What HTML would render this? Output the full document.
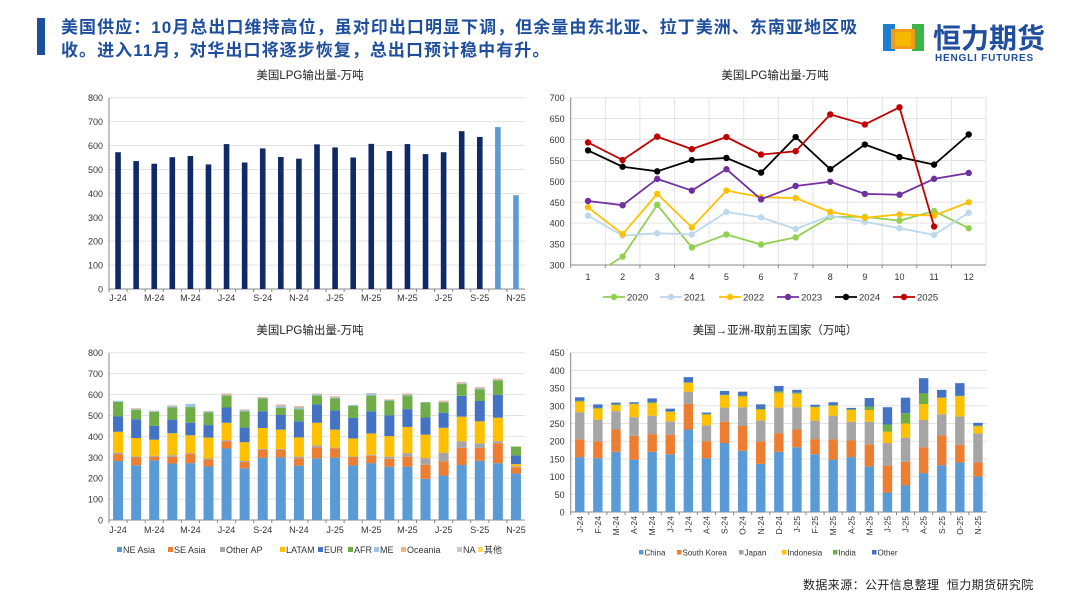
<!DOCTYPE html>
<html><head><meta charset="utf-8">
<style>
html,body{margin:0;padding:0;background:#fff;}
body{width:1080px;height:608px;overflow:hidden;position:relative;font-family:"Liberation Sans","Noto Sans CJK SC",sans-serif;}
.hdr{position:absolute;left:61px;top:16px;font-size:17px;line-height:23px;color:#1f4e9c;font-weight:bold;white-space:nowrap;letter-spacing:1.05px;font-family:"Liberation Sans","Noto Sans CJK SC",sans-serif;}
</style></head><body>
<div style="position:absolute;left:37px;top:18px;width:8px;height:37px;background:#1f4e9c"></div>
<div class="hdr">美国供应：10月总出口维持高位，虽对印出口明显下调，但余量由东北亚、拉丁美洲、东南亚地区吸<br>收。进入11月，对华出口将逐步恢复，总出口预计稳中有升。</div>
<div style="position:absolute;left:883px;top:22px;width:170px;height:42px;overflow:hidden">
  <div style="position:absolute;left:0;top:2px;width:41px;height:28px;">
    <div style="position:absolute;left:0;top:0;width:12px;height:27px;background:#1c7fd0"></div>
    <div style="position:absolute;left:29px;top:0;width:12px;height:27px;background:#3cb44a"></div>
    <div style="position:absolute;left:8px;top:5px;width:24px;height:20px;background:#f29a1b"></div>
    <div style="position:absolute;left:12px;top:8px;width:16px;height:14px;background:#f5b800"></div>
  </div>
  <div style="position:absolute;left:50px;top:-5px;font-size:28px;font-weight:bold;color:#1f4e9c;letter-spacing:0px;font-family:'Noto Sans CJK SC',sans-serif">恒力期货</div>
  <div style="position:absolute;left:52px;top:31px;font-size:10px;font-weight:bold;color:#1f4e9c;letter-spacing:0.8px">HENGLI FUTURES</div>
</div>
<div style="position:absolute;left:803px;top:576px;font-size:12px;letter-spacing:0.4px;color:#222;font-family:'Liberation Sans','Noto Sans CJK SC',sans-serif">数据来源：公开信息整理&nbsp;&nbsp;恒力期货研究院</div>

<svg id="svg" width="1080" height="608" style="position:absolute;left:0;top:0" xmlns="http://www.w3.org/2000/svg" font-family="Liberation Sans, Noto Sans CJK SC, sans-serif">
<defs><clipPath id="c2"><rect x="570" y="97" width="417" height="168"/></clipPath></defs>
</svg>

<script>
// ---- Chart 1 data ----
const c1Months = ["J-24","F-24","M-24","A-24","M-24","J-24","J-24","A-24","S-24","O-24","N-24","D-24","J-25","F-25","M-25","A-25","M-25","J-25","J-25","A-25","S-25","O-25","N-25"];
const c1Values = [572,535,524,551,556,521,606,529,588,552,545,605,592,550,607,577,606,564,572,660,636,677,392];
const c1Ticks = [0,100,200,300,400,500,600,700,800];

// ---- Chart 2 data ----
const c2Months = [1,2,3,4,5,6,7,8,9,10,11,12];
const c2Years = ["2020","2021","2022","2023","2024","2025"];
const s2020 = [268,320,444,342,373,349,366,415,415,406,429,388];
const s2021 = [418,370,376,373,427,414,386,418,403,388,372,425];
const s2022 = [438,374,470,390,478,462,460,427,413,421,418,450];
const s2023 = [453,443,506,478,529,457,489,499,470,468,506,520];
const s2024 = [574,535,524,551,556,521,606,529,588,558,540,612];
const s2025 = [593,551,607,577,606,564,572,660,636,677,392];
const c2Ticks = [300,350,400,450,500,550,600,650,700];

// ---- Chart 3 data (stacked by region) ----
const c3Regions = ["NE Asia","SE Asia","Other AP","LATAM","EUR","AFR","ME","Oceania","NA","其他"];
const neAsia  = [282,262,285,270,272,256,342,247,298,300,260,295,298,261,272,255,255,197,213,263,283,272,222];
const seAsia  = [33,37,17,32,45,33,35,30,37,35,35,52,45,40,35,38,48,67,68,82,62,95,30];
const otherAP = [7,5,5,8,3,5,5,5,5,5,8,10,3,3,5,10,17,32,40,32,22,10,5];
const latam   = [100,88,77,105,85,100,83,90,100,92,92,108,86,86,102,98,125,112,120,117,105,112,10];
const eur     = [73,90,66,65,60,60,73,70,80,70,77,87,92,98,106,100,85,82,72,100,97,110,42];
const afr     = [70,45,67,58,75,60,57,77,62,35,58,43,57,57,75,70,65,72,49,56,55,68,42];
const me      = [5,5,5,5,15,5,3,5,3,8,8,7,5,5,10,3,5,2,3,3,5,3,0];
const oceania = [0,3,2,3,0,2,5,3,3,5,5,3,5,0,2,3,5,0,5,5,5,5,0];
const na      = [0,0,0,3,0,0,3,3,0,3,2,0,1,0,0,0,0,0,2,2,2,2,0];
const others  = [0,0,0,0,0,0,0,0,0,0,0,0,0,0,0,0,0,0,0,0,0,0,0];
const c3Ticks = [0,100,200,300,400,500,600,700,800];

// ---- Chart 4 data (US -> Asia) ----
const c4Countries = ["China","South Korea","Japan","Indonesia","India","Other"];
const china  = [155,152,170,148,170,163,233,152,195,173,136,170,183,163,148,155,129,55,75,110,132,140,100];
const korea  = [50,47,63,67,50,55,72,48,60,70,63,52,50,43,57,47,62,76,67,73,84,50,40];
const japan  = [77,62,52,53,52,38,35,45,40,53,60,73,63,52,67,53,64,64,68,77,60,80,82];
const indo   = [30,31,17,37,35,27,25,30,35,30,30,42,38,38,28,33,33,32,40,45,47,57,20];
const india  = [2,2,2,1,3,1,1,2,1,2,2,4,3,2,2,2,10,20,29,30,0,1,2];
const other4 = [10,10,5,4,11,8,15,4,11,12,13,15,8,5,8,4,24,49,44,43,22,36,8];
const c4Ticks = [0,50,100,150,200,250,300,350,400,450];

const NS="http://www.w3.org/2000/svg";
const svg=document.getElementById('svg');
function el(tag,attrs,parent){const e=document.createElementNS(NS,tag);for(const k in attrs)e.setAttribute(k,attrs[k]);(parent||svg).appendChild(e);return e;}
function txt(x,y,s,size,anchor,fill,parent){const t=el('text',{x:x,y:y,'font-size':size,'text-anchor':anchor||'middle',fill:fill||'#333'},parent);t.textContent=s;return t;}

// ===== Chart 1 =====
(function(){
 const g=el('g',{});
 
 
 const x0=109,x1=525,y0=289,y1=97.7,vmax=800;
 const Y=v=>y0-(v/vmax)*(y0-y1);
 const bw=(x1-x0)/c1Values.length;
 const X=i=>x0+bw*(i+0.5);
 const t=txt(310,79,"美国LPG输出量-万吨",11.5,'middle','#222',g);
 
 c1Ticks.forEach(v=>{
  if(v>0){const l=el('line',{x1:x0,x2:x1,y1:Y(v),y2:Y(v),stroke:'#e3e3e3','stroke-width':1},g);}
  const tl=txt(x0-6,Y(v)+3.5,String(v),9,'end','#333',g);
  
 });
 el('line',{x1:x0,x2:x0,y1:y1,y2:y0,stroke:'#888'},g);
 el('line',{x1:x0,x2:x1,y1:y0,y2:y0,stroke:'#888'},g);
 c1Values.forEach((v,i)=>{
  const r=el('rect',{x:X(i)-2.8,y:Y(v),width:5.6,height:y0-Y(v),fill:i>=21?'#5b9bd5':'#0f2a66'},g);
  
  
 });
 c1Months.forEach((m,i)=>{
  el('line',{x1:x0+bw*i,x2:x0+bw*i,y1:y0,y2:y0+3,stroke:'#888'},g);
  if(i%2===0){const l=txt(X(i),301,m,9,'middle','#333',g);}
 });
})();

// ===== Chart 2 =====
(function(){
 const g=el('g',{});
 
 
 const x0=570.7,x1=986,y0=265,y1=97.7,vmin=300,vmax=700;
 const Y=v=>y0-((v-vmin)/(vmax-vmin))*(y0-y1);
 const bw=(x1-x0)/c2Months.length;
 const X=i=>x0+bw*(i+0.5);
 const t=txt(775,79,"美国LPG输出量-万吨",11.5,'middle','#222',g);
 
 c2Ticks.forEach(v=>{
  if(v>vmin)el('line',{x1:x0,x2:x1,y1:Y(v),y2:Y(v),stroke:'#e3e3e3'},g);
  const tl=txt(x0-6,Y(v)+3.5,String(v),9,'end','#333',g);
  
 });
 c2Months.forEach((m,i)=>{
  el('line',{x1:x0+bw*(i+1),x2:x0+bw*(i+1),y1:y1,y2:y0,stroke:'#e3e3e3'},g);
  el('line',{x1:x0+bw*i,x2:x0+bw*i,y1:y0,y2:y0+3,stroke:'#888'},g);
  const l=txt(X(i),280,String(m),9,'middle','#333',g);
 });
 el('line',{x1:x0,x2:x0,y1:y1,y2:y0,stroke:'#888'},g);
 el('line',{x1:x0,x2:x1,y1:y0,y2:y0,stroke:'#888'},g);
 const series=[s2020,s2021,s2022,s2023,s2024,s2025];
 const colors=['#92d050','#bdd7ee','#ffc000','#7030a0','#000000','#c00000'];
 const cg=el('g',{'clip-path':'url(#c2)'},g);
 series.forEach((s,k)=>{
  const pts=s.map((v,i)=>X(i)+','+Y(v)).join(' ');
  const pl=el('polyline',{points:pts,fill:'none',stroke:colors[k],'stroke-width':1.8},cg);
  
  s.forEach((v,i)=>{
   const c=el('circle',{cx:X(i),cy:Y(v),r:3.2,fill:colors[k]},cg);
   
  });
 });
 const lx=[603,660,719,777,835,893];
 c2Years.forEach((yname,k)=>{
  const lg=el('g',{},g);
  
  el('line',{x1:lx[k],x2:lx[k]+22,y1:297,y2:297,stroke:colors[k],'stroke-width':1.8},lg);
  el('circle',{cx:lx[k]+11,cy:297,r:3.2,fill:colors[k]},lg);
  txt(lx[k]+24,300.5,yname,9.5,'start','#333',lg);
 });
})();

// ===== Chart 3 =====
(function(){
 const g=el('g',{});
 
 
 const x0=109,x1=525,y0=520,y1=352.7,vmax=800;
 const Y=v=>y0-(v/vmax)*(y0-y1);
 const n=neAsia.length,bw=(x1-x0)/n;
 const X=i=>x0+bw*(i+0.5);
 const t=txt(310,334,"美国LPG输出量-万吨",11.5,'middle','#222',g);
 
 c3Ticks.forEach(v=>{
  if(v>0)el('line',{x1:x0,x2:x1,y1:Y(v),y2:Y(v),stroke:'#e3e3e3'},g);
  const tl=txt(x0-6,Y(v)+3.5,String(v),9,'end','#333',g);
  
 });
 el('line',{x1:x0,x2:x0,y1:y1,y2:y0,stroke:'#888'},g);
 el('line',{x1:x0,x2:x1,y1:y0,y2:y0,stroke:'#888'},g);
 const series=[neAsia,seAsia,otherAP,latam,eur,afr,me,oceania,na,others];
 const colors=['#5b9bd5','#ed7d31','#a5a5a5','#ffc000','#4472c4','#70ad47','#9dc3e6','#f4b183','#c9c9c9','#ffd966'];
 for(let i=0;i<n;i++){
  let acc=0;
  series.forEach((s,k)=>{
   const v=s[i];if(v<=0)return;
   const r=el('rect',{x:X(i)-5,y:Y(acc+v),width:10,height:Y(acc)-Y(acc+v),fill:colors[k]},g);
   
   
   acc+=v;
  });
 }
 c1Months.forEach((m,i)=>{
  el('line',{x1:x0+bw*i,x2:x0+bw*i,y1:y0,y2:y0+3,stroke:'#888'},g);
  if(i%2===0){const l=txt(X(i),533,m,9,'middle','#333',g);}
 });
 const lx=[117,168,220,280,318,348,374,401,457,478];
 c3Regions.forEach((r,k)=>{
  const lg=el('g',{},g);
  
  el('rect',{x:lx[k],y:547,width:5,height:5,fill:colors[k]},lg);
  txt(lx[k]+6,553,r,9,'start','#333',lg);
 });
})();

// ===== Chart 4 =====
(function(){
 const g=el('g',{});
 
 
 const x0=570.7,x1=987,y0=512,y1=352.7,vmax=450;
 const Y=v=>y0-(v/vmax)*(y0-y1);
 const n=china.length,bw=(x1-x0)/n;
 const X=i=>x0+bw*(i+0.5);
 const t=txt(775,334,"美国→亚洲-取前五国家（万吨）",11.5,'middle','#222',g);
 
 c4Ticks.forEach(v=>{
  if(v>0)el('line',{x1:x0,x2:x1,y1:Y(v),y2:Y(v),stroke:'#e3e3e3'},g);
  const tl=txt(x0-6,Y(v)+3.5,String(v),9,'end','#333',g);
  
 });
 el('line',{x1:x0,x2:x0,y1:y1,y2:y0,stroke:'#888'},g);
 el('line',{x1:x0,x2:x1,y1:y0,y2:y0,stroke:'#888'},g);
 const series=[china,korea,japan,indo,india,other4];
 const colors=['#5b9bd5','#ed7d31','#a5a5a5','#ffc000','#70ad47','#4472c4'];
 for(let i=0;i<n;i++){
  let acc=0;
  series.forEach((s,k)=>{
   const v=s[i];if(v<=0)return;
   const r=el('rect',{x:X(i)-4.7,y:Y(acc+v),width:9.4,height:Y(acc)-Y(acc+v),fill:colors[k]},g);
   
   
   acc+=v;
  });
 }
 c1Months.forEach((m,i)=>{
  el('line',{x1:x0+bw*i,x2:x0+bw*i,y1:y0,y2:y0+3,stroke:'#888'},g);
  const l=txt(0,0,m,8.5,'end','#333',g);
  l.setAttribute('transform','translate('+(X(i)+3)+','+(y0+4)+') rotate(-90)');
  
 });
 const lx=[639,677,739,782,833,872];
 c4Countries.forEach((c,k)=>{
  const lg=el('g',{},g);
  
  el('rect',{x:lx[k],y:550,width:4.5,height:4.5,fill:colors[k]},lg);
  txt(lx[k]+5.5,555.5,c,8,'start','#333',lg);
 });
})();
</script>
</body></html>
